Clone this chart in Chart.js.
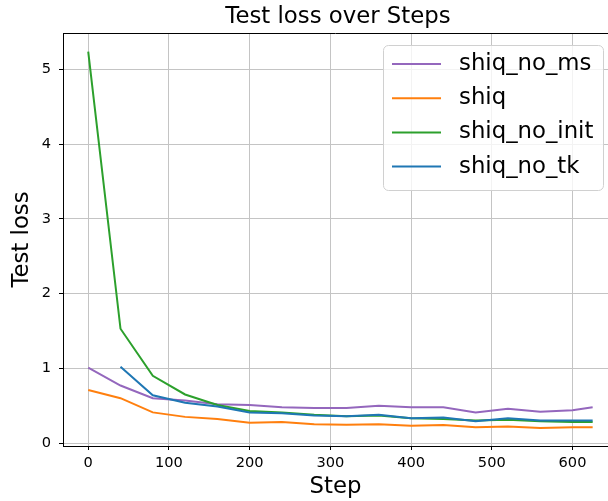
<!DOCTYPE html>
<html>
<head>
<meta charset="utf-8">
<script src="https://cdn.jsdelivr.net/npm/chart.js@4.4.1/dist/chart.umd.min.js"></script>
<style>
  html, body { margin: 0; padding: 0; background: #fff; }
  #wrap { width: 608px; height: 501px; }
</style>
</head>
<body>
<div id="wrap"><canvas id="c"></canvas></div>
<script>
const steps = [0, 40, 80, 120, 160, 200, 240, 280, 320, 360, 400, 440, 480, 520, 560, 600, 625];

const shiqNoMs   = [1.01, 0.77, 0.60, 0.57, 0.52, 0.51, 0.48, 0.47, 0.47, 0.50, 0.48, 0.48, 0.41, 0.46, 0.42, 0.44, 0.48];
const shiq       = [0.71, 0.60, 0.41, 0.35, 0.32, 0.27, 0.28, 0.25, 0.245, 0.25, 0.23, 0.24, 0.21, 0.22, 0.20, 0.21, 0.21];
const shiqNoInit = [5.24, 1.53, 0.90, 0.65, 0.51, 0.43, 0.41, 0.38, 0.36, 0.37, 0.33, 0.32, 0.30, 0.31, 0.29, 0.28, 0.28];
const shiqNoTk   = [null, 1.02, 0.64, 0.54, 0.49, 0.41, 0.40, 0.37, 0.36, 0.38, 0.33, 0.34, 0.29, 0.33, 0.30, 0.30, 0.30];

const xTicks = [0, 100, 200, 300, 400, 500, 600];
const yTicks = [0, 1, 2, 3, 4, 5];

const font = "DejaVu Sans";
const big = 22.8;
const pts = (vals) => steps.map((s, i) => ({ x: s, y: vals[i] }));

function serie(label, vals, color, order) {
  return {
    label, data: pts(vals), borderColor: color, backgroundColor: color,
    borderWidth: 2, pointRadius: 0, tension: 0, fill: false, order,
  };
}

// titulo centrado sobre los ejes, marco superior y leyenda con caja (estilo matplotlib)
const extras = {
  id: "extras",
  afterDraw(chart) {
    const { ctx, chartArea: a } = chart;
    ctx.save();
    ctx.strokeStyle = "#000";
    ctx.lineWidth = 1;
    ctx.beginPath();
    ctx.moveTo(a.left, a.top + 0.5);
    ctx.lineTo(a.right, a.top + 0.5);
    ctx.stroke();

    ctx.fillStyle = "#000";
    ctx.font = `${big}px '${font}'`;
    ctx.textAlign = "center";
    ctx.textBaseline = "middle";
    ctx.fillText("Test loss over Steps", 338, 17);

    // leyenda
    const bx = 383, by = 45, bw = 220, bh = 145, r = 5;
    ctx.beginPath();
    ctx.roundRect(bx + 0.5, by + 0.5, bw, bh, r);
    ctx.fillStyle = "rgba(255,255,255,0.8)";
    ctx.fill();
    ctx.strokeStyle = "#d0d0d0";
    ctx.stroke();

    ctx.textAlign = "left";
    chart.data.datasets.forEach((ds, i) => {
      const y = 64 + i * 34.2;
      ctx.strokeStyle = ds.borderColor;
      ctx.lineWidth = 2;
      ctx.beginPath();
      ctx.moveTo(392, y);
      ctx.lineTo(441, y);
      ctx.stroke();
      ctx.fillStyle = "#000";
      ctx.fillText(ds.label, 459, y);
    });
    ctx.restore();
  },
};

new Chart(document.getElementById("c"), {
  type: "line",
  data: {
    datasets: [
      serie("shiq_no_ms", shiqNoMs, "#9467bd", 4),
      serie("shiq", shiq, "#ff7f0e", 3),
      serie("shiq_no_init", shiqNoInit, "#2ca02c", 2),
      serie("shiq_no_tk", shiqNoTk, "#1f77b4", 1),
    ],
  },
  options: {
    responsive: true,
    maintainAspectRatio: false,
    animation: false,
    layout: { padding: { top: 33, right: 0, left: 0, bottom: 0 } },
    plugins: { legend: { display: false }, title: { display: false }, tooltip: { enabled: false } },
    scales: {
      x: {
        type: "linear",
        min: -31.25,
        max: 644,
        afterFit: (s) => { s.height = 55; },
        afterBuildTicks: (s) => { s.ticks = xTicks.map((v) => ({ value: v })); },
        grid: { color: "#c4c4c4", lineWidth: 1, tickColor: "#000", tickLength: 4, tickWidth: 1 },
        border: { color: "#000", width: 1 },
        ticks: { color: "#000", font: { family: font, size: 14.6 }, padding: 4, maxRotation: 0 },
        title: { display: true, text: "Step", color: "#000", font: { family: font, size: big }, padding: { top: 0, bottom: 0 } },
      },
      y: {
        min: -0.04,
        max: 5.49,
        afterFit: (s) => { s.width = 63; },
        afterBuildTicks: (s) => { s.ticks = yTicks.map((v) => ({ value: v })); },
        grid: { color: "#c4c4c4", lineWidth: 1, tickColor: "#000", tickLength: 4, tickWidth: 1 },
        border: { color: "#000", width: 1 },
        ticks: { color: "#000", font: { family: font, size: 14.6 }, padding: 8 },
        title: { display: true, text: "Test loss", color: "#000", font: { family: font, size: big }, padding: { top: 8, bottom: 0 } },
      },
    },
  },
  plugins: [extras],
});
</script>
</body>
</html>
